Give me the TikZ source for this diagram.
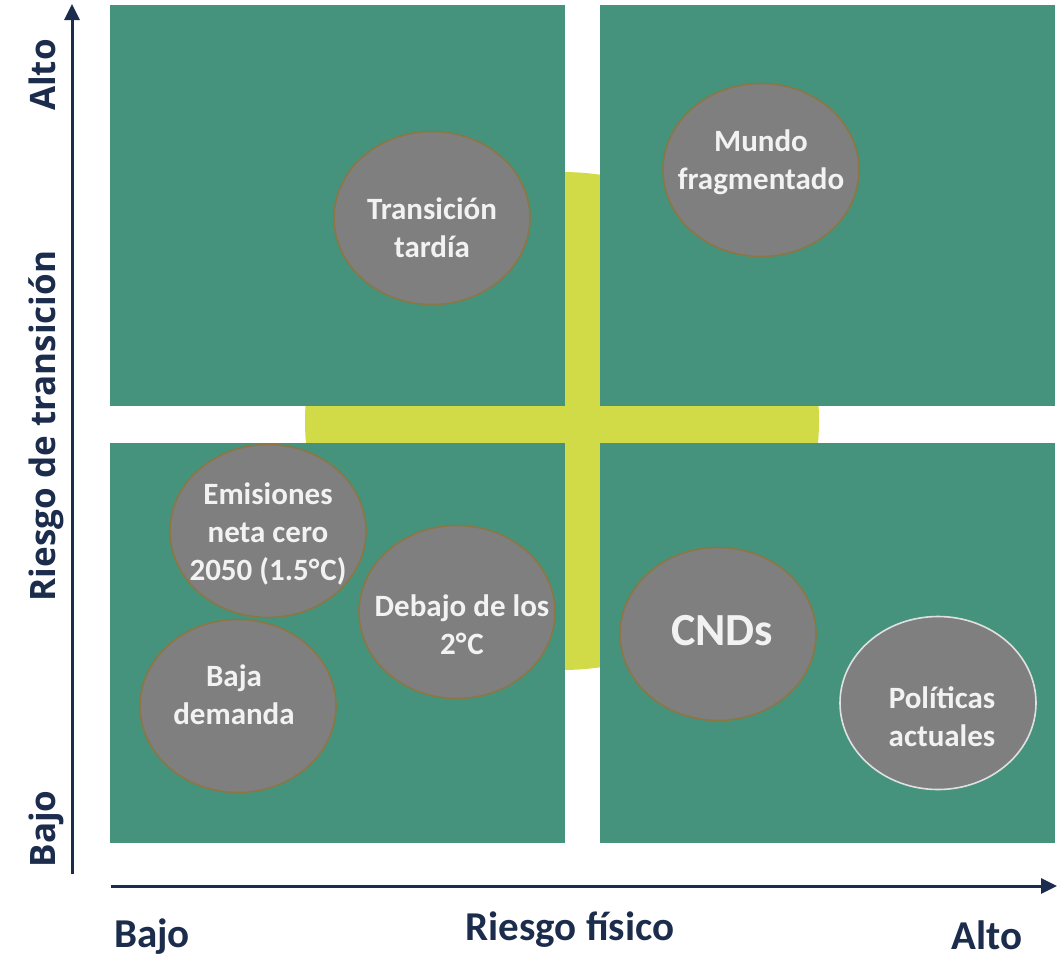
\documentclass[tikz,border=0pt]{standalone}
\usepackage{fontspec}
\setmainfont{Carlito}
\newfontfamily\osans{Open Sans}
\usetikzlibrary{shapes.geometric,arrows.meta}
\definecolor{teal}{HTML}{45937D}
\definecolor{lime}{HTML}{D1DB48}
\definecolor{oval}{HTML}{7F7F7F}
\definecolor{ovalline}{HTML}{8C7744}
\definecolor{navy}{HTML}{1C2C4C}
\definecolor{ovaltext}{HTML}{F2F2F2}
\tikzset{
  quad/.style={fill=teal, draw=none},
  oval/.style={ellipse, fill=oval, draw=ovalline, line width=1.6pt, minimum width=196pt, minimum height=173pt, inner sep=0pt},
  ovaltxt/.style={text=ovaltext, font=\bfseries\fontsize{31}{38}\selectfont, align=center, inner sep=0pt},
  axis/.style={draw=navy, line width=3pt, -{Triangle[length=16pt,width=15pt]}},
  axlab/.style={text=navy, font=\bfseries\fontsize{41}{48}\selectfont, inner sep=0pt, anchor=base},
  vlab/.style={text=navy, font=\osans\bfseries\fontsize{35}{42}\selectfont, inner sep=0pt, anchor=base, rotate=90}
}
\begin{document}
\begin{tikzpicture}[x=1pt,y=-1pt]
\useasboundingbox (0,0) rectangle (1060,959);
% yellow disc behind
\fill[lime] (562,421) ellipse [x radius=257, y radius=249];
% quadrants
\fill[quad] (110,5) rectangle (565,406);
\fill[quad] (600,5) rectangle (1055,406);
\fill[quad] (110,443) rectangle (565,843);
\fill[quad] (600,443) rectangle (1055,843);
% scenario ovals
\node[oval] (e1) at (432,218) {};
\node[oval] (e2) at (761,170) {};
\node[oval] (e3) at (268,531) {};
\node[oval] (e4) at (457,612) {};
\node[oval] (e5) at (238,706) {};
\node[oval] (e6) at (718,634) {};
\node[oval, draw=white!88!black] (e7) at (938,703) {};
\node[ovaltxt] (t1) at (432,228) {Transición\\tardía};
\node[ovaltxt] (t2) at (761,162) {Mundo\\fragmentado};
\node[ovaltxt] (t3) at (268,534) {Emisiones\\neta cero\\2050 (1.5°\kern1pt C)};
\node[ovaltxt] (t4) at (462,625) {Debajo de los\\2°\kern1pt C};
\node[ovaltxt] (t5) at (234,695) {Baja\\demanda};
\node[ovaltxt, font=\bfseries\fontsize{46}{54}\selectfont] (t6) at (722,631) {CNDs};
\node[ovaltxt] (t7) at (942,717) {Políticas\\actuales};
% axes
\coordinate (ybot) at (72,874);
\coordinate (ytop) at (72,4);
\coordinate (xl) at (111,886);
\coordinate (xr) at (1057,886);
\draw[axis] (ybot) -- (ytop);
\draw[axis] (xl) -- (xr);
% axis labels
\node[vlab] (yalto) at (55,75) {Alto};
\node[vlab] (ytitle) at (55,426) {Riesgo de transición};
\node[vlab] (ybajo) at (55,829) {Bajo};
\node[axlab] (xbajo) at (152,947) {Bajo};
\node[axlab] (xtitle) at (570,940) {Riesgo físico};
\node[axlab] (xalto) at (987,949) {Alto};
\end{tikzpicture}
\end{document}
